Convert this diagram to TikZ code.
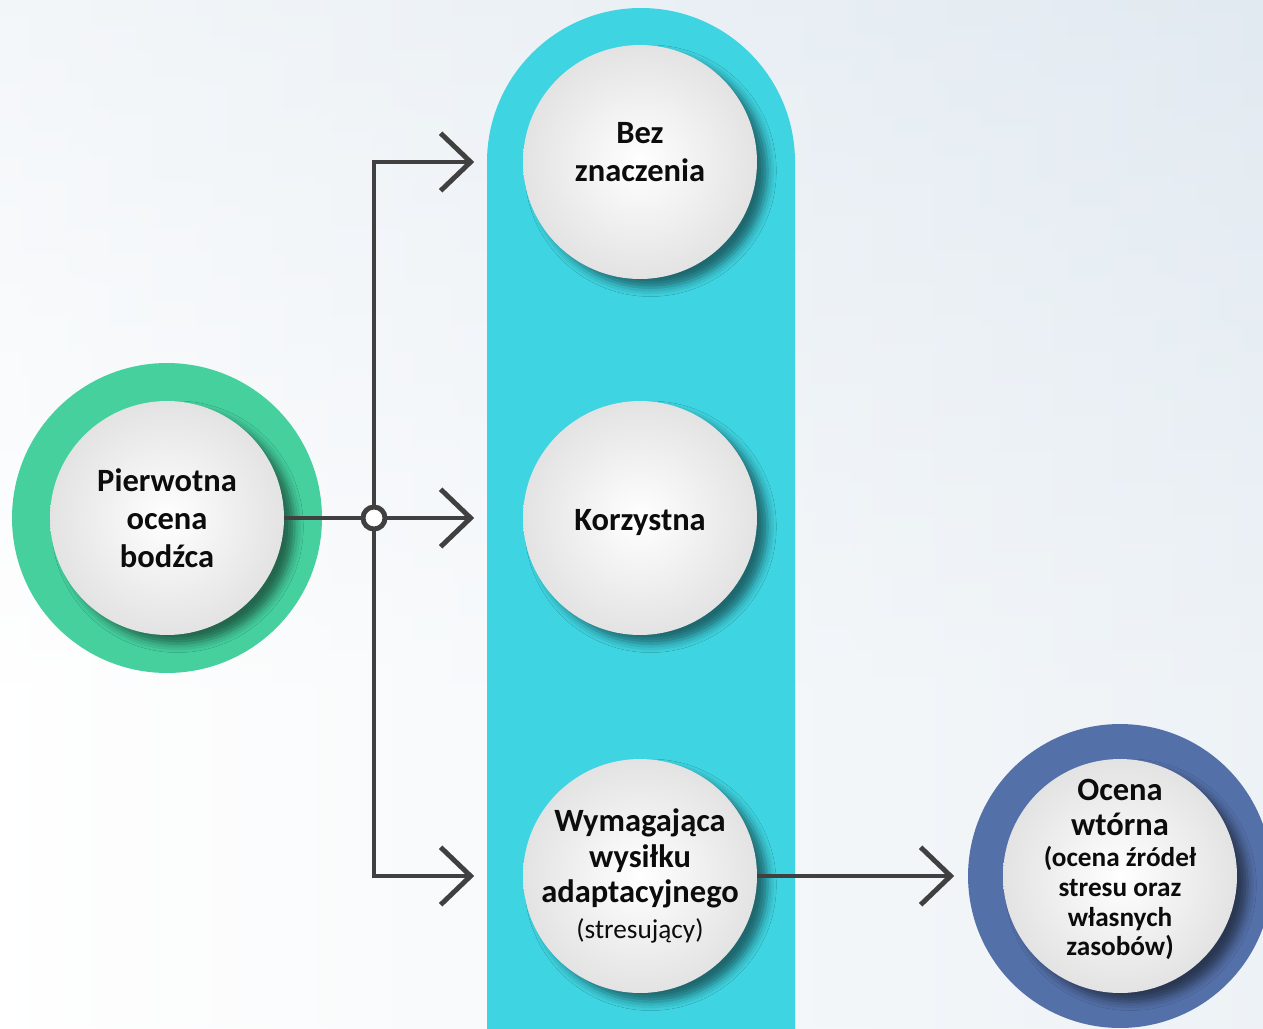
\documentclass[tikz,border=0pt]{standalone}
\usepackage{fontspec}
\setmainfont{Carlito}
\usetikzlibrary{arrows.meta,shadows.blur}

\definecolor{ringgreen}{RGB}{69,208,158}
\definecolor{capsulecyan}{RGB}{62,212,225}
\definecolor{ringblue}{RGB}{84,112,168}
\definecolor{linegray}{RGB}{64,64,64}
\definecolor{bgtop}{RGB}{226,234,241}
\definecolor{textdark}{RGB}{12,12,12}

\newcommand{\notefont}{\fontsize{15.5}{18}\selectfont}

\tikzset{
  bubble/.style={circle, minimum size=4.68cm, inner sep=-30pt, align=center,
    font=\fontsize{18.5}{21.5}\selectfont\bfseries, text=textdark,
    inner color=white, outer color=black!11,
    blur shadow={shadow xshift=6pt, shadow yshift=-5pt,
      shadow blur radius=5pt, shadow opacity=50}},
  wire/.style={draw=linegray, line width=2.8pt},
  link/.style={wire, shorten >=0.97cm,
    -{Straight Barb[length=0.6cm, width=1.15cm]}},
}

\begin{document}
\begin{tikzpicture}[x=0.02cm, y=-0.02cm]
  \useasboundingbox (0,0) rectangle (1263,1028);
  \begin{scope}
    \clip (0,0) rectangle (1263,1028);
    % background
    \fill[white] (0,0) rectangle (1263,1028);
    \shade[top color=bgtop, bottom color=white] (0,0) rectangle (1263,700);
    \shade[left color=white, right color=bgtop, opacity=0.6] (0,0) rectangle (1263,1028);
    % rings and capsule
    \fill[ringgreen] (167,518) circle (3.1cm);
    \fill[capsulecyan, rounded corners=3.08cm] (487,8) rectangle (795,1400);
    \fill[ringblue] (1120,876) circle (3.04cm);

    \node[bubble] (pierwotna) at (167,518) {Pierwotna\\ocena\\bodźca};
    \node[bubble, text depth=11.4pt] (bez) at (640,162) {Bez\\znaczenia};
    \node[bubble, text height=17.6pt] (korzystna) at (640,518) {Korzystna};
    \node[bubble] (wymagajaca) at (640,876)
      {Wymagająca\\[-1.5pt]wysiłku\\[-1.5pt]adaptacyjnego\\[-1pt]{\notefont\mdseries (stresujący)}};
    \node[bubble, text depth=9.6pt] (wtorna) at (1120,876)
      {Ocena\\[-1.5pt]wtórna\\[-4pt]{\notefont (ocena źródeł}\\[-4.5pt]{\notefont stresu oraz}\\[-4.5pt]{\notefont własnych}\\[-4.5pt]{\notefont zasobów)}};
  \end{scope}

  % connectors
  \node[circle, wire, fill=white, minimum size=0.44cm, inner sep=0pt] (junc) at (374,518) {};
  \draw[wire] (pierwotna.east) -- (junc.west);
  \draw[link] (junc.north) |- (bez.west);
  \draw[link] (junc.east) -- (korzystna.west);
  \draw[link] (junc.south) |- (wymagajaca.west);
  \draw[link] (wymagajaca.east) -- (wtorna.west);
\end{tikzpicture}
\end{document}
